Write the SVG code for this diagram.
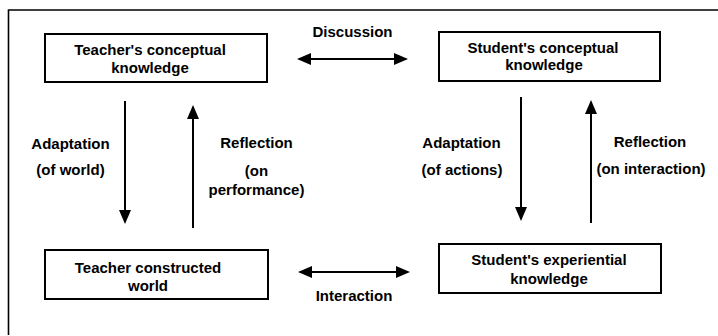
<svg xmlns="http://www.w3.org/2000/svg" width="718" height="336" viewBox="0 0 718 336">
<defs>
<style>
text{font-family:"Liberation Sans",Arial,Helvetica,sans-serif;font-weight:bold;font-size:15px;fill:#000;text-anchor:middle}
.box{fill:#fff;stroke:#000;stroke-width:2}
.conn{stroke:#000;stroke-width:2;fill:none}
.frame{stroke:#000;stroke-width:1.6;fill:none}
</style>
<marker id="ah" viewBox="0 0 14 12" markerWidth="14" markerHeight="12" refX="12" refY="6" orient="auto-start-reverse" markerUnits="userSpaceOnUse">
<path d="M0,0 L14,6 L0,12 z" fill="#000"/>
</marker>
</defs>
<rect width="718" height="336" fill="#fff"/>
<path class="frame" d="M8.5,335 L8.5,10 L718,10"/>
<g id="teacher-conceptual">
<rect class="box" x="45" y="34" width="222" height="48"/>
<text x="150" y="55">Teacher's conceptual</text>
<text x="150" y="73">knowledge</text>
</g>
<g id="student-conceptual">
<rect class="box" x="439" y="32" width="221" height="49"/>
<text x="543" y="53">Student's conceptual</text>
<text x="544" y="70">knowledge</text>
</g>
<g id="teacher-world">
<rect class="box" x="45" y="250" width="223" height="49"/>
<text x="148" y="273">Teacher constructed</text>
<text x="148" y="291">world</text>
</g>
<g id="student-experiential">
<rect class="box" x="439" y="244" width="222" height="49"/>
<text x="549" y="265">Student's experiential</text>
<text x="549" y="284">knowledge</text>
</g>
<g id="connectors">
<line class="conn" x1="299" y1="59" x2="406" y2="59" marker-start="url(#ah)" marker-end="url(#ah)"/>
<line class="conn" x1="300" y1="272" x2="408" y2="272" marker-start="url(#ah)" marker-end="url(#ah)"/>
<line class="conn" x1="125" y1="101" x2="125" y2="222" marker-end="url(#ah)"/>
<line class="conn" x1="193" y1="228" x2="193" y2="107" marker-end="url(#ah)"/>
<line class="conn" x1="521" y1="97" x2="521" y2="219" marker-end="url(#ah)"/>
<line class="conn" x1="591" y1="223" x2="591" y2="102" marker-end="url(#ah)"/>
<text x="352.5" y="37">Discussion</text>
<text x="354" y="301">Interaction</text>
<text x="70.5" y="149">Adaptation</text>
<text x="70.5" y="175">(of world)</text>
<text x="256.5" y="148">Reflection</text>
<text x="256.5" y="176">(on</text>
<text x="256.5" y="195">performance)</text>
<text x="461.5" y="148">Adaptation</text>
<text x="462" y="175">(of actions)</text>
<text x="650" y="147">Reflection</text>
<text x="651" y="174">(on interaction)</text>
</g>
</svg>
